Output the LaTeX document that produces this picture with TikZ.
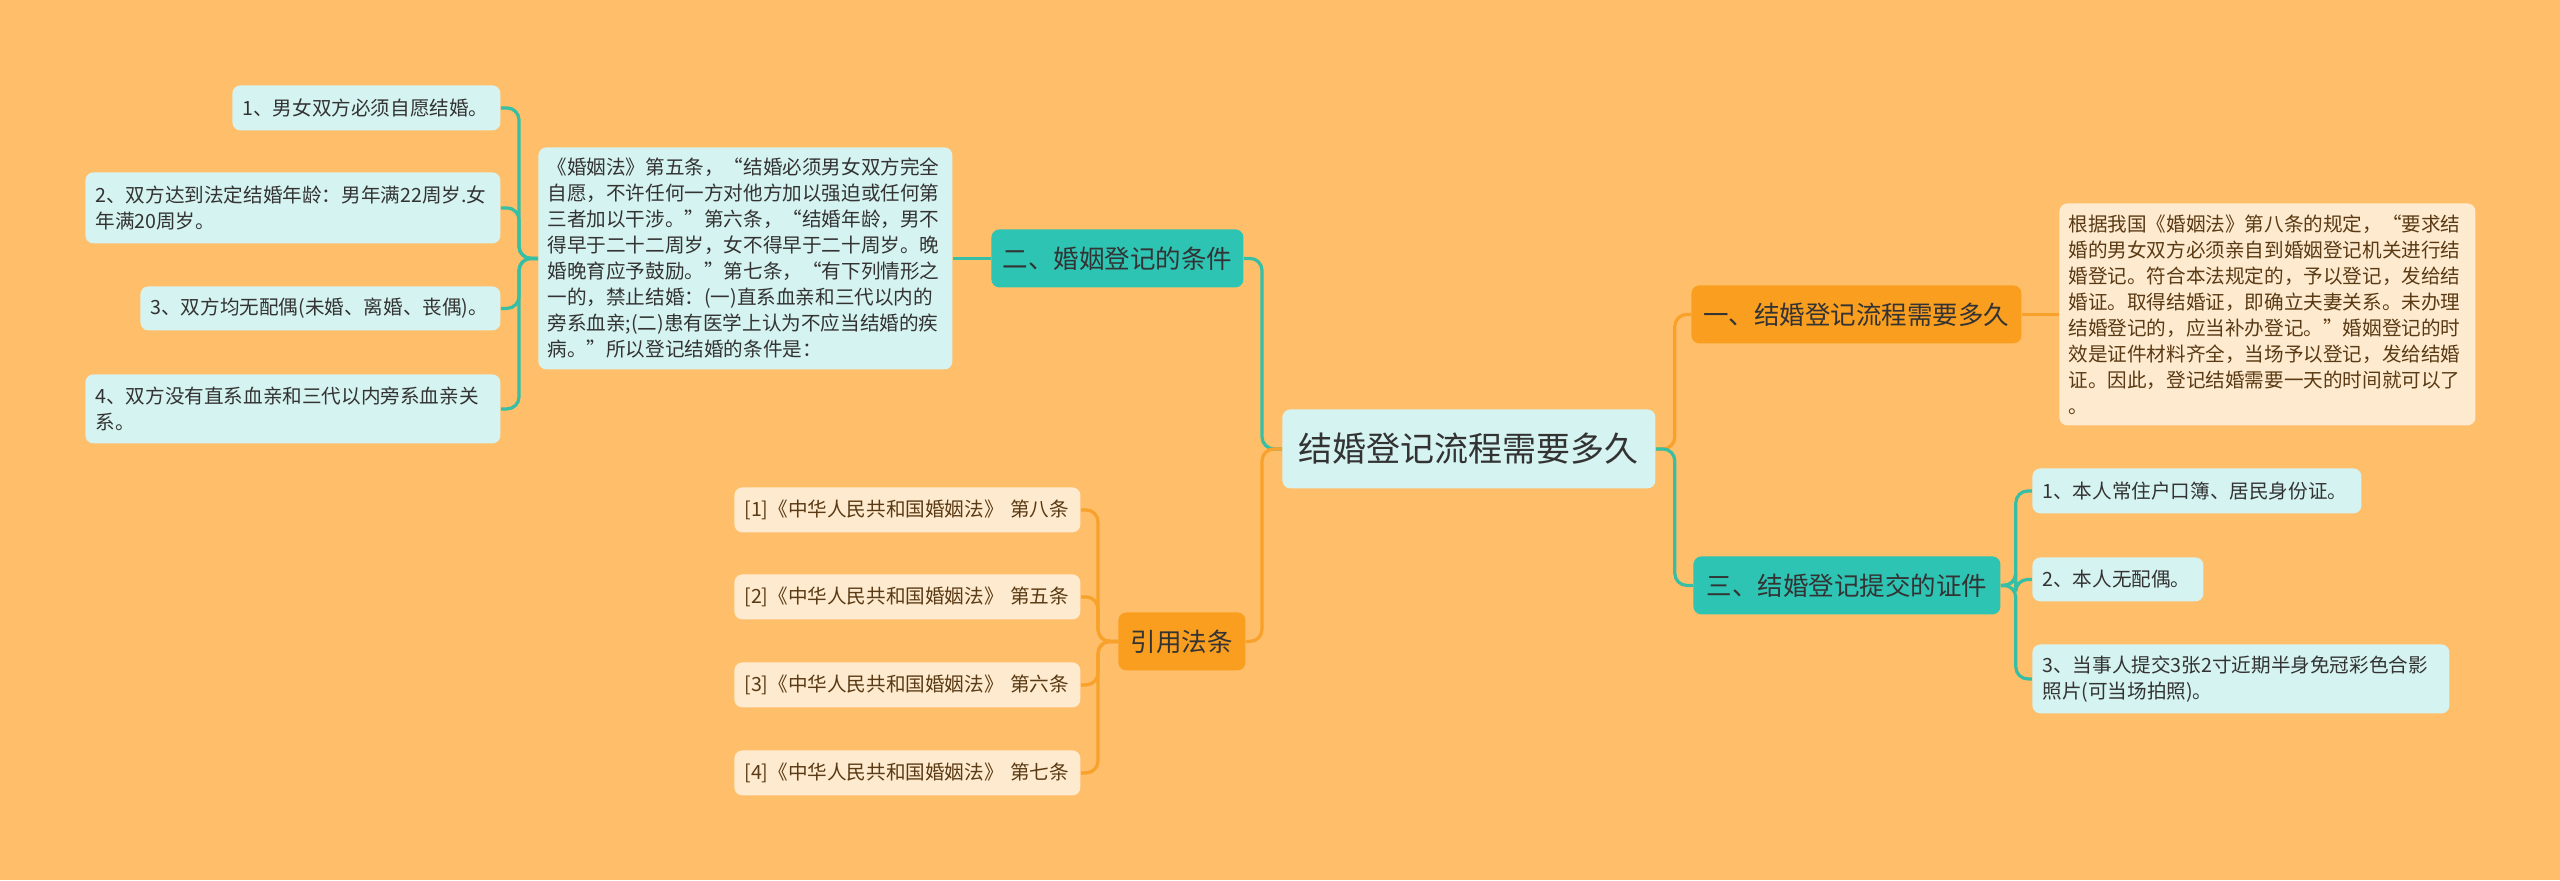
\documentclass[tikz,border=0pt]{standalone}
\usepackage{fontspec}
\setmainfont{Noto Sans CJK SC}
\pgfdeclarelayer{background}
\pgfsetlayers{background,main}
\definecolor{bgc}{HTML}{FFBE6A}
\definecolor{tealbox}{HTML}{2EC4B3}
\definecolor{tealline}{HTML}{36BFA5}
\definecolor{cyanbox}{HTML}{D5F3F0}
\definecolor{orangebox}{HTML}{F99E1F}
\definecolor{orangeline}{HTML}{F8A12B}
\definecolor{creambox}{HTML}{FEEBCF}
\definecolor{darktext}{HTML}{333333}
\definecolor{browntext}{HTML}{5A3A14}
\tikzset{
  base/.style={anchor=north west, rounded corners=4pt, inner ysep=0pt},
  smallfont/.style={font=\fontsize{9.8pt}{13pt}\selectfont},
  leaf/.style={base, smallfont, fill=cyanbox, text=darktext, align=left, inner xsep=5pt},
  citebox/.style={base, smallfont, fill=creambox, text=browntext, align=left, inner xsep=5pt, text width=163pt, minimum height=22.5pt},
  notebox/.style={base, smallfont, align=left, inner xsep=4.5pt, minimum height=111pt},
  branch/.style={base, inner sep=0pt, minimum height=29pt, align=center, font=\fontsize{12.75pt}{15pt}\selectfont},
  bteal/.style={branch, fill=tealbox, text=darktext},
  borange/.style={branch, fill=orangebox, text=darktext},
  centre/.style={base, inner sep=0pt, minimum width=186.5pt, minimum height=39.5pt, fill=cyanbox, text=darktext, font=\fontsize{17pt}{20pt}\selectfont},
  tline/.style={draw=tealline, line width=1.6pt, rounded corners=6pt},
  oline/.style={draw=orangeline, line width=1.6pt, rounded corners=6pt}
}
\begin{document}
\begin{tikzpicture}[x=0.5pt,y=-0.5pt]
\useasboundingbox (0,0) rectangle (2560,880);
% centre
\node[centre] (c) at (1282,409) {结婚登记流程需要多久};
% right side
\node[borange, minimum width=165pt] (b1) at (1691,285) {一、结婚登记流程需要多久};
\node[notebox, fill=creambox, text=browntext, text width=199pt] (t1) at (2059,203) {根据我国《婚姻法》第八条的规定，“要求结\\婚的男女双方必须亲自到婚姻登记机关进行结\\婚登记。符合本法规定的，予以登记，发给结\\婚证。取得结婚证，即确立夫妻关系。未办理\\结婚登记的，应当补办登记。”婚姻登记的时\\效是证件材料齐全，当场予以登记，发给结婚\\证。因此，登记结婚需要一天的时间就可以了\\。};
\node[bteal, minimum width=153.5pt] (b3) at (1693,556) {三、结婚登记提交的证件};
\node[leaf, text width=154.5pt, minimum height=22.5pt] (r1) at (2032,468) {1、本人常住户口簿、居民身份证。};
\node[leaf, text width=75.5pt, minimum height=22pt] (r2) at (2032,557) {2、本人无配偶。};
\node[leaf, text width=198.5pt, minimum height=34.5pt] (r3) at (2032,644) {3、当事人提交3张2寸近期半身免冠彩色合影\\照片(可当场拍照)。};
% left side
\node[bteal, minimum width=126pt] (b2) at (991,229) {二、婚姻登记的条件};
\node[notebox, fill=cyanbox, text=darktext, text width=198pt] (t2) at (538,147) {《婚姻法》第五条，“结婚必须男女双方完全\\自愿，不许任何一方对他方加以强迫或任何第\\三者加以干涉。”第六条，“结婚年龄，男不\\得早于二十二周岁，女不得早于二十周岁。晚\\婚晚育应予鼓励。”第七条，“有下列情形之\\一的，禁止结婚：(一)直系血亲和三代以内的\\旁系血亲;(二)患有医学上认为不应当结婚的疾\\病。”所以登记结婚的条件是：};
\node[leaf, text width=124pt, minimum height=22.5pt] (l1) at (232,85) {1、男女双方必须自愿结婚。};
\node[leaf, text width=197.5pt, minimum height=35.5pt] (l2) at (85,172) {2、双方达到法定结婚年龄：男年满22周岁.女\\年满20周岁。};
\node[leaf, text width=170pt, minimum height=22pt] (l3) at (140,286) {3、双方均无配偶(未婚、离婚、丧偶)。};
\node[leaf, text width=197.5pt, minimum height=34.5pt] (l4) at (85,374) {4、双方没有直系血亲和三代以内旁系血亲关\\系。};
\node[borange, minimum width=63.5pt] (b4) at (1118,612) {引用法条};
\node[citebox] (k1) at (734,487) {[1]《中华人民共和国婚姻法》 第八条};
\node[citebox] (k2) at (734,574) {[2]《中华人民共和国婚姻法》 第五条};
\node[citebox] (k3) at (734,662) {[3]《中华人民共和国婚姻法》 第六条};
\node[citebox] (k4) at (734,750) {[4]《中华人民共和国婚姻法》 第七条};
\begin{pgfonlayer}{background}
\fill[bgc] (0,0) rectangle (2560,880);
\coordinate (jCL) at ([xshift=-10pt]c.west);
\coordinate (jCR) at ([xshift=9.5pt]c.east);
\coordinate (jB3) at ([xshift=7.5pt]b3.east);
\coordinate (jT2) at ([xshift=-9.5pt]t2.west);
\coordinate (jB4) at ([xshift=-10pt]b4.west);
\draw[tline] (c.west) -- (jCL) |- (b2.east);
\draw[oline] (c.west) -- (jCL) |- (b4.east);
\draw[oline] (c.east) -- (jCR) |- (b1.west);
\draw[tline] (c.east) -- (jCR) |- (b3.west);
\draw[oline] (b1.east) -- (t1.west);
\draw[tline] (b2.west) -- (t2.east);
\draw[tline] (b3.east) -- (jB3) |- (r1.west);
\draw[tline] (b3.east) -- (jB3) |- (r2.west);
\draw[tline] (b3.east) -- (jB3) |- (r3.west);
\draw[tline] (t2.west) -- (jT2) |- (l1.east);
\draw[tline] (t2.west) -- (jT2) |- (l2.east);
\draw[tline] (t2.west) -- (jT2) |- (l3.east);
\draw[tline] (t2.west) -- (jT2) |- (l4.east);
\draw[oline] (b4.west) -- (jB4) |- (k1.east);
\draw[oline] (b4.west) -- (jB4) |- (k2.east);
\draw[oline] (b4.west) -- (jB4) |- (k3.east);
\draw[oline] (b4.west) -- (jB4) |- (k4.east);
\end{pgfonlayer}
\end{tikzpicture}
\end{document}
